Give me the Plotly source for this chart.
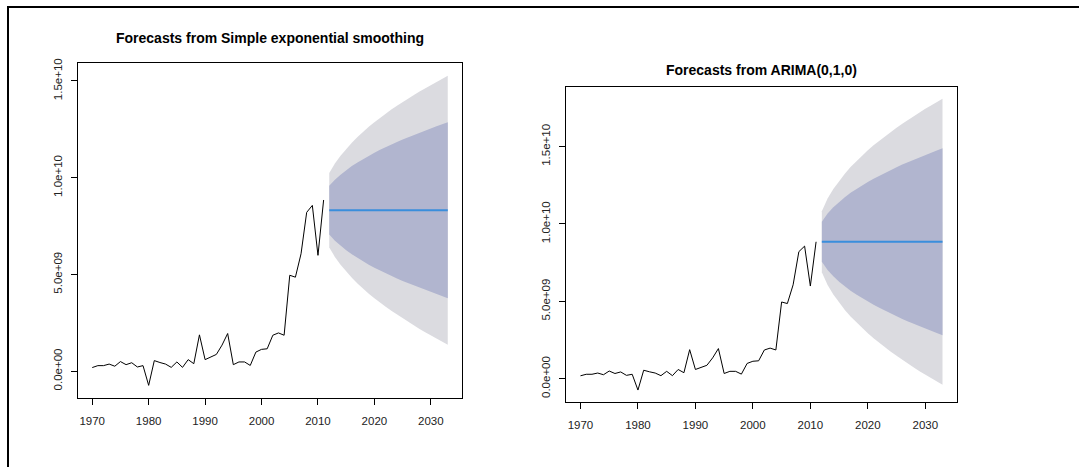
import plotly.graph_objects as go

# ---------------- data ----------------
years = list(range(1970, 2012))
values_e9 = [0.19, 0.29, 0.29, 0.37, 0.26, 0.50, 0.34, 0.44, 0.22, 0.29,
             -0.73, 0.55, 0.45, 0.37, 0.20, 0.48, 0.20, 0.60, 0.39, 1.88,
             0.60, 0.72, 0.87, 1.35, 1.95, 0.34, 0.48, 0.48, 0.30, 0.99,
             1.13, 1.16, 1.86, 1.98, 1.86, 4.96, 4.86, 6.07, 8.21, 8.57,
             5.99, 8.85]

fc_years = list(range(2012, 2034))

# Simple exponential smoothing forecasts (x1e9)
ses_mean = [8.32] * 22
ses_lo95 = [6.40, 5.91, 5.50, 5.15, 4.83, 4.54, 4.26, 4.01, 3.77, 3.54, 3.33,
            3.12, 2.92, 2.72, 2.54, 2.36, 2.18, 2.01, 1.84, 1.68, 1.52, 1.37]
ses_hi95 = [10.24, 10.73, 11.14, 11.49, 11.81, 12.10, 12.38, 12.63, 12.87, 13.10, 13.31,
            13.52, 13.72, 13.92, 14.10, 14.28, 14.46, 14.63, 14.80, 14.96, 15.12, 15.27]
ses_lo80 = [7.06, 6.74, 6.48, 6.25, 6.04, 5.85, 5.67, 5.50, 5.35, 5.20, 5.05,
            4.92, 4.79, 4.66, 4.54, 4.42, 4.31, 4.19, 4.08, 3.98, 3.88, 3.77]
ses_hi80 = [9.58, 9.90, 10.16, 10.39, 10.60, 10.79, 10.97, 11.14, 11.29, 11.44, 11.59,
            11.72, 11.85, 11.98, 12.10, 12.22, 12.33, 12.45, 12.56, 12.66, 12.76, 12.87]

# ARIMA(0,1,0) forecasts (x1e9)
ari_mean = [8.85] * 22
ari_lo95 = [6.88, 6.06, 5.44, 4.91, 4.45, 4.02, 3.64, 3.28, 2.94, 2.62, 2.32,
            2.03, 1.75, 1.48, 1.22, 0.97, 0.73, 0.49, 0.26, 0.04, -0.18, -0.39]
ari_hi95 = [10.82, 11.64, 12.26, 12.79, 13.25, 13.68, 14.06, 14.42, 14.76, 15.08, 15.38,
            15.67, 15.95, 16.22, 16.48, 16.73, 16.97, 17.21, 17.44, 17.66, 17.88, 18.09]
ari_lo80 = [7.56, 7.03, 6.62, 6.27, 5.97, 5.69, 5.44, 5.21, 4.99, 4.78, 4.58,
            4.39, 4.21, 4.03, 3.86, 3.70, 3.54, 3.39, 3.24, 3.09, 2.95, 2.81]
ari_hi80 = [10.14, 10.67, 11.08, 11.43, 11.73, 12.01, 12.26, 12.49, 12.71, 12.92, 13.12,
            13.31, 13.49, 13.67, 13.84, 14.00, 14.16, 14.31, 14.46, 14.61, 14.75, 14.89]

x_ticks = [1970, 1980, 1990, 2000, 2010, 2020, 2030]
y_tickvals = [0, 5e9, 1e10, 1.5e10]
y_ticktext = ["0.0e+00", "5.0e+09", "1.0e+10", "1.5e+10"]

titles = ["Forecasts from Simple exponential smoothing", "Forecasts from ARIMA(0,1,0)"]

# ---------------- styling ----------------
W, H = 1079, 467
FONT = "Liberation Sans, Arial, Helvetica, sans-serif"
C95 = "#DBDBE0"
C80 = "#B1B5CF"
CFC = "#3A8EDC"

E9 = 1e9
def sc(lst):
    return [v * E9 for v in lst]

panels = [
    dict(mean=ses_mean, lo95=ses_lo95, hi95=ses_hi95, lo80=ses_lo80, hi80=ses_hi80,
         dom_x=(78, 462), dom_y=(59, 397), title_y=33),
    dict(mean=ari_mean, lo95=ari_lo95, hi95=ari_hi95, lo80=ari_lo80, hi80=ari_hi80,
         dom_x=(566, 957), dom_y=(83, 401), title_y=66),
]

fig = go.Figure()

for i, p in enumerate(panels):
    sfx = "" if i == 0 else str(i + 1)
    xa, ya = "x" + sfx, "y" + sfx
    poly_x = fc_years + fc_years[::-1]
    fig.add_trace(go.Scatter(x=poly_x, y=sc(p["hi95"] + p["lo95"][::-1]), fill="toself",
                             fillcolor=C95, line=dict(width=0), mode="lines",
                             xaxis=xa, yaxis=ya, hoverinfo="skip"))
    fig.add_trace(go.Scatter(x=poly_x, y=sc(p["hi80"] + p["lo80"][::-1]), fill="toself",
                             fillcolor=C80, line=dict(width=0), mode="lines",
                             xaxis=xa, yaxis=ya, hoverinfo="skip"))
    fig.add_trace(go.Scatter(x=fc_years, y=sc(p["mean"]), mode="lines",
                             line=dict(color=CFC, width=2), xaxis=xa, yaxis=ya))
    fig.add_trace(go.Scatter(x=years, y=sc(values_e9), mode="lines",
                             line=dict(color="black", width=1), xaxis=xa, yaxis=ya))

    # R-style ranges (4% padding)
    allx = years + fc_years
    ally = values_e9 + p["lo95"] + p["hi95"]
    xr = (min(allx), max(allx))
    yr = (min(ally) * E9, max(ally) * E9)
    dx = (xr[1] - xr[0]) * 0.04
    dy = (yr[1] - yr[0]) * 0.04

    x0, x1 = p["dom_x"]
    ytop, ybot = p["dom_y"]
    axis_common = dict(showgrid=False, zeroline=False, showline=True, mirror=True,
                       linecolor="black", linewidth=1, ticks="outside", ticklen=6,
                       tickcolor="black", tickwidth=1,
                       tickfont=dict(family=FONT, size=11.5, color="#222222"))
    fig.layout["xaxis" + sfx] = dict(domain=[x0 / W, x1 / W], anchor=ya,
                                     range=[xr[0] - dx, xr[1] + dx],
                                     tickvals=x_ticks, ticklabelstandoff=6, **axis_common)
    fig.layout["yaxis" + sfx] = dict(domain=[1 - ybot / H, 1 - ytop / H], anchor=xa,
                                     range=[yr[0] - dy, yr[1] + dy],
                                     tickvals=y_tickvals, ticktext=y_ticktext,
                                     tickangle=-90, ticklabelstandoff=4, **axis_common)
    fig.add_annotation(text="<b>" + titles[i] + "</b>", xref="paper", yref="paper",
                       x=(x0 + x1) / 2 / W, y=1 - p["title_y"] / H,
                       xanchor="center", yanchor="middle", showarrow=False,
                       font=dict(family=FONT, size=14, color="black"))

# outer frame (top and left edges visible)
fig.add_shape(type="rect", xref="paper", yref="paper",
              x0=8 / W, x1=1.02, y0=-0.02, y1=1 - 2 / H,
              line=dict(color="black", width=2), fillcolor="rgba(0,0,0,0)")

fig.update_layout(width=W, height=H, margin=dict(l=0, r=0, t=0, b=0),
                  paper_bgcolor="white", plot_bgcolor="white", showlegend=False,
                  font=dict(family=FONT))

post = ("document.documentElement.style.margin='0';"
        "document.body.style.margin='0';document.body.style.padding='0';"
        "document.body.style.overflow='hidden';"
        "var d=document.getElementsByClassName('plotly-graph-div')[0];"
        "d.style.position='absolute';d.style.top='0px';d.style.left='0px';")

fig.write_html("out.html", config={"displayModeBar": False}, post_script=post)
